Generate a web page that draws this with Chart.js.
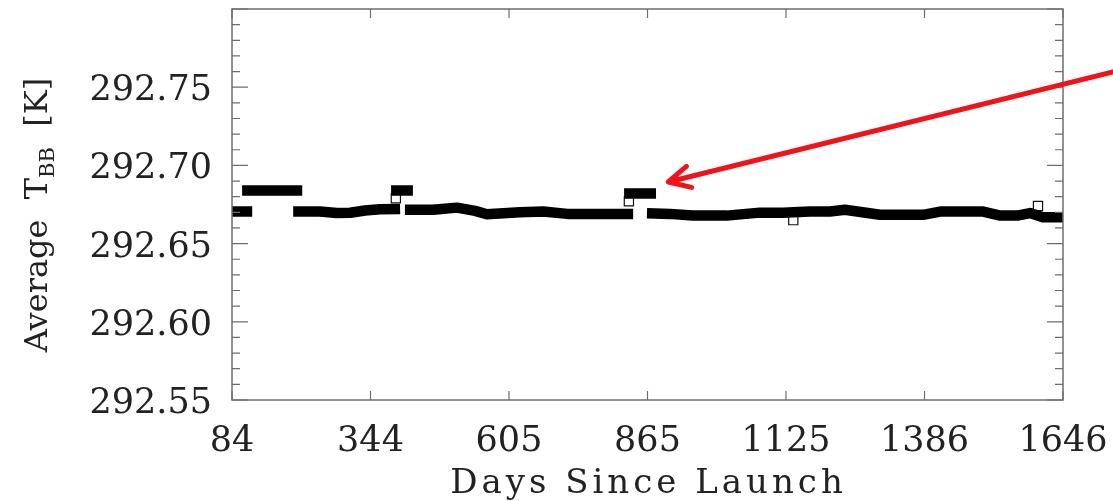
<!DOCTYPE html>
<html>
<head>
<meta charset="utf-8">
<script src="https://cdn.jsdelivr.net/npm/chart.js@4.4.1/dist/chart.umd.min.js"></script>
<style>
  html, body { margin: 0; padding: 0; background: #fff; }
  #wrap { width: 1113px; height: 501px; position: relative; }
</style>
</head>
<body>
<div id="wrap"><canvas id="tbbChart"></canvas></div>
<script>
// days since launch / average blackbody temperature
var mainDays = [84, 122, null,
    199, 249, 281, 306, 334, 362, 400, null,
    409, 462, 507, 541, 563, 625, 669, 714, 776, 838, null,
    864, 907, 950, 1014, 1076, 1120, 1170, 1208, 1236, 1302, 1383, 1415, 1496, 1528, 1560, 1584, 1608, 1646];
var mainTemps = [292.6705, 292.6705, null,
    292.6705, 292.6705, 292.6695, 292.6697, 292.6712, 292.6720, 292.6722, null,
    292.6716, 292.6716, 292.6730, 292.6709, 292.6688, 292.6701, 292.6705, 292.6690, 292.6690, 292.6690, null,
    292.6694, 292.6690, 292.6679, 292.6679, 292.6698, 292.6698, 292.6705, 292.6705, 292.6716, 292.6684, 292.6684, 292.6705, 292.6705, 292.6679, 292.6679, 292.6695, 292.6669, 292.6669];

// short jumps above the main level
var jumpDays = [103, 216, null, 383, 424, null, 821, 881];
var jumpTemps = [292.6840, 292.6840, null, 292.6840, 292.6840, null, 292.6821, 292.6821];

// isolated hollow points
var openDays = [392, 830, 1139, 1599];
var openTemps = [292.6790, 292.6770, 292.6650, 292.6740];

var xTickValues = [84, 344.33, 604.67, 865, 1125.33, 1385.67, 1646];
var xTickLabels = ['84', '344', '605', '865', '1125', '1386', '1646'];
var yTickLabels = ['292.55', '292.60', '292.65', '292.70', '292.75'];

// red arrow pointing at the jump near day 865
var arrowTail = { x: 1740, y: 292.7597 };
var arrowTip = { x: 904, y: 292.6894 };

var serifFont = "'DejaVu Serif', 'Liberation Serif', serif";

function toPoints(xs, ys) {
    var pts = [];
    for (var i = 0; i < xs.length; i++) {
        pts.push({ x: xs[i], y: ys[i] });
    }
    return pts;
}

var frameAndArrow = {
    id: 'frameAndArrow',
    afterDraw: function(chart) {
        var ctx = chart.ctx;
        var a = chart.chartArea;
        var xs = chart.scales.x, ys = chart.scales.y;
        ctx.save();
        ctx.strokeStyle = '#6e6e6e';
        ctx.lineWidth = 1.5;
        ctx.strokeRect(a.left, a.top, a.right - a.left, a.bottom - a.top);

        // inward ticks
        ctx.lineWidth = 1.2;
        ctx.beginPath();
        ys.ticks.forEach(function(t, i) {
            var py = ys.getPixelForValue(t.value);
            var len = (i % 5 === 0) ? 16 : 8;
            ctx.moveTo(a.left, py); ctx.lineTo(a.left + len, py);
            ctx.moveTo(a.right, py); ctx.lineTo(a.right - len, py);
        });
        xs.ticks.forEach(function(t) {
            var px = xs.getPixelForValue(t.value);
            ctx.moveTo(px, a.bottom); ctx.lineTo(px, a.bottom - 9);
            ctx.moveTo(px, a.top); ctx.lineTo(px, a.top + 9);
        });
        ctx.stroke();

        // x title, letter-spaced like the original stroke font
        ctx.fillStyle = '#222';
        ctx.font = '34px ' + serifFont;
        ctx.textAlign = 'center';
        ctx.textBaseline = 'alphabetic';
        ctx.letterSpacing = '4px';
        ctx.fillText('Days Since Launch', (a.left + a.right) / 2 + 1, 493);
        ctx.letterSpacing = '0px';
        ctx.textAlign = 'left';

        // y title with subscript
        ctx.translate(47, 215);
        ctx.rotate(-Math.PI / 2);
        ctx.font = '32px ' + serifFont;
        var p1 = 'Average  T', p3 = '  [K]';
        var w1 = ctx.measureText(p1).width, w3 = ctx.measureText(p3).width;
        ctx.font = '21px ' + serifFont;
        var w2 = ctx.measureText('BB').width;
        var x0 = -(w1 + w2 + w3) / 2;
        ctx.font = '32px ' + serifFont;
        ctx.fillText(p1, x0, 0);
        ctx.font = '21px ' + serifFont;
        ctx.fillText('BB', x0 + w1, 7);
        ctx.font = '32px ' + serifFont;
        ctx.fillText(p3, x0 + w1 + w2, 0);
        ctx.restore();

        // arrow
        var tx = xs.getPixelForValue(arrowTail.x), ty = ys.getPixelForValue(arrowTail.y);
        var hx = xs.getPixelForValue(arrowTip.x), hy = ys.getPixelForValue(arrowTip.y);
        var ang = Math.atan2(ty - hy, tx - hx);
        ctx.save();
        ctx.strokeStyle = '#f0141a';
        ctx.lineWidth = 5;
        ctx.lineCap = 'round';
        ctx.lineJoin = 'round';
        ctx.beginPath();
        ctx.moveTo(tx, ty); ctx.lineTo(hx, hy);
        ctx.moveTo(hx + 24 * Math.cos(ang - 0.47), hy + 24 * Math.sin(ang - 0.47));
        ctx.lineTo(hx, hy);
        ctx.lineTo(hx + 24 * Math.cos(ang + 0.47), hy + 24 * Math.sin(ang + 0.47));
        ctx.stroke();
        ctx.restore();
    }
};

var lineStyle = {
    borderColor: '#000',
    borderWidth: 10.5,
    borderCapStyle: 'butt',
    borderJoinStyle: 'round',
    pointRadius: 0,
    tension: 0,
    spanGaps: false,
    order: 1
};

new Chart(document.getElementById('tbbChart'), {
    type: 'line',
    data: {
        datasets: [
            Object.assign({ label: 'Average T_BB', data: toPoints(mainDays, mainTemps) }, lineStyle),
            Object.assign({ label: 'Jumps', data: toPoints(jumpDays, jumpTemps) }, lineStyle),
            {
                label: 'Single points',
                type: 'scatter',
                data: toPoints(openDays, openTemps),
                pointStyle: 'rect',
                pointRadius: 6.5,
                pointBackgroundColor: '#fff',
                pointBorderColor: '#111',
                pointBorderWidth: 1.2,
                showLine: false,
                order: 3
            }
        ]
    },
    options: {
        responsive: true,
        maintainAspectRatio: false,
        animation: false,
        layout: { padding: { top: 9, right: 50, left: 0, bottom: 0 } },
        plugins: {
            legend: { display: false },
            tooltip: { enabled: false }
        },
        scales: {
            x: {
                type: 'linear',
                min: 84,
                max: 1646,
                afterBuildTicks: function(scale) {
                    scale.ticks = xTickValues.map(function(v) { return { value: v }; });
                },
                afterFit: function(scale) {
                    scale.height = 101;
                    scale.paddingLeft = 0;
                    scale.paddingRight = 0;
                },
                grid: { display: false },
                border: { display: false },
                ticks: {
                    autoSkip: false,
                    maxRotation: 0,
                    padding: 13,
                    color: '#222',
                    font: { family: serifFont, size: 35 },
                    callback: function(value, index) { return xTickLabels[index]; }
                },
                title: { display: false }
            },
            y: {
                min: 292.55,
                max: 292.80,
                afterBuildTicks: function(scale) {
                    var t = [];
                    for (var i = 0; i <= 25; i++) t.push({ value: 292.55 + i * 0.01 });
                    scale.ticks = t;
                },
                afterFit: function(scale) {
                    scale.width = 232;
                    scale.paddingTop = 0;
                    scale.paddingBottom = 0;
                },
                grid: { display: false },
                border: { display: false },
                ticks: {
                    autoSkip: false,
                    padding: 12,
                    labelOffset: 4,
                    color: '#222',
                    font: { family: serifFont, size: 35 },
                    callback: function(value, index) {
                        return (index % 5 === 0 && index < 25) ? yTickLabels[index / 5] : '';
                    }
                }
            }
        }
    },
    plugins: [frameAndArrow]
});
</script>
</body>
</html>
